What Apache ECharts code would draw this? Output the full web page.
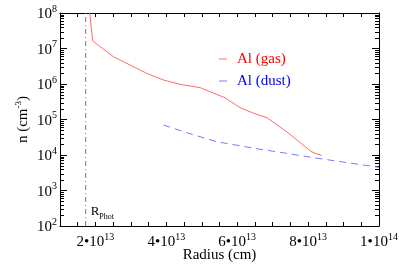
<!DOCTYPE html>
<html><head><meta charset="utf-8">
<script src="https://cdn.jsdelivr.net/npm/echarts@6/dist/echarts.min.js"></script>
<style>html,body{margin:0;padding:0;background:#fff}#c{width:399px;height:266px}</style>
</head><body><div id="c"></div>
<script>
// ---- data ----
const gasRadius = [1.83e13, 1.875e13, 1.923e13, 2.504e13, 2.975e13, 3.446e13, 3.915e13, 4.386e13, 4.95e13, 5.656e13, 6.079e13, 6.446e13, 6.841e13, 7.433e13, 8.082e13, 8.195e13, 8.384e13];
const gasDensity = [1.15e8, 4.6e7, 1.63e7, 5.9e6, 3.43e6, 2.0e6, 1.30e6, 9.8e5, 7.9e5, 4.1e5, 2.15e5, 1.52e5, 1.12e5, 4.25e4, 1.26e4, 1.12e4, 9.7e3];
const dustRadius = [3.915e13, 4.575e13, 5.421e13, 6.643e13, 6.925e13, 8.336e13, 1e14];
const dustDensity = [7.0e4, 4.25e4, 2.37e4, 1.45e4, 1.32e4, 7.9e3, 4.5e3];
const rPhot = 1.725e13;
const xMin = 1e13, xMax = 1e14, xTickStep = 5e12, xLabelStep = 2e13;
const yMin = 1e2, yMax = 1e8;
const seriesNames = ['Al (gas)', 'Al (dust)'];
const seriesColors = ['#ff6a6a', '#7a7aff'];
const legendTextColors = ['#ff0000', '#0000ff'];

const FONT = 'Liberation Serif';
const minorVals = [];
for (let k = Math.log10(yMin); k < Math.log10(yMax); k++) {
  for (let m = 2; m <= 9; m++) minorVals.push(m * Math.pow(10, k));
}
function sup(base, exp) { return '{b|' + base + '}{s|' + exp + '}'; }
const richLab = {
  b: {fontFamily: FONT, fontSize: 15, color: '#000', lineHeight: 18, verticalAlign: 'bottom'},
  s: {fontFamily: FONT, fontSize: 10, color: '#000', lineHeight: 18, verticalAlign: 'top'}
};
function xLabel(v) {
  const r = v / xLabelStep;
  if (Math.abs(r - Math.round(r)) > 1e-6) return '';
  const e = Math.floor(Math.log10(v) + 1e-9);
  const m = Math.round(v / Math.pow(10, e));
  return sup(m + '\u202210', e);
}
function yLabel(v) {
  const e = Math.round(Math.log10(v));
  return sup('10', e);
}

const chart = echarts.init(document.getElementById('c'), null, {renderer: 'canvas'});
const axisLine = {show: true, lineStyle: {color: '#000', width: 1}};
chart.setOption({
  animation: false,
  backgroundColor: '#fff',
  grid: {left: 60, right: 20, top: 13, bottom: 40, containLabel: false, outerBoundsMode: 'none'},
  legend: {
    orient: 'vertical', left: 214, top: 46, itemGap: 6,
    itemWidth: 8, itemHeight: 1, icon: 'rect',
    textStyle: {fontFamily: FONT, fontSize: 15, lineHeight: 16, padding: [0, 0, 0, 5]},
    data: seriesNames.map((n, i) => ({name: n, textStyle: {color: legendTextColors[i]}}))
  },
  xAxis: [{
    type: 'value', min: xMin, max: xMax, interval: xTickStep,
    name: 'Radius (cm)', nameLocation: 'middle', nameGap: 22, nameMoveOverlap: false,
    nameTextStyle: {fontFamily: FONT, fontSize: 15, color: '#000'},
    axisLine: axisLine, splitLine: {show: false},
    axisTick: {show: true, inside: true, length: 4, lineStyle: {color: '#000'}},
    axisLabel: {formatter: xLabel, margin: 6, rich: richLab, showMinLabel: true, showMaxLabel: true, hideOverlap: false}
  }, {
    type: 'value', position: 'top', min: xMin, max: xMax, interval: xTickStep,
    axisLine: axisLine, splitLine: {show: false},
    axisTick: {show: true, inside: true, length: 4, lineStyle: {color: '#000'}},
    axisLabel: {show: false}
  }],
  yAxis: [{
    type: 'log', logBase: 10, min: yMin, max: yMax,
    name: 'n (cm{s|-3})', nameLocation: 'middle', nameGap: 28, nameMoveOverlap: false,
    nameTextStyle: {fontFamily: FONT, fontSize: 15, color: '#000',
      rich: {s: {fontFamily: FONT, fontSize: 9, color: '#000', verticalAlign: 'top', lineHeight: 18}}},
    axisLine: axisLine, splitLine: {show: false},
    axisTick: {show: true, inside: true, length: 7, lineStyle: {color: '#000'}},
    axisLabel: {formatter: yLabel, margin: 3, rich: richLab}
  }, {
    type: 'log', logBase: 10, min: yMin, max: yMax, position: 'right',
    axisLine: axisLine, splitLine: {show: false},
    axisTick: {show: true, inside: true, length: 7, lineStyle: {color: '#000'}},
    axisLabel: {show: false}
  }],
  series: [{
    name: seriesNames[0], type: 'line', showSymbol: false, symbol: 'none', clip: true,
    data: gasRadius.map((r, i) => [r, gasDensity[i]]),
    lineStyle: {color: seriesColors[0], width: 1}, itemStyle: {color: seriesColors[0]}
  }, {
    name: seriesNames[1], type: 'line', showSymbol: false, symbol: 'none', clip: true,
    data: dustRadius.map((r, i) => [r, dustDensity[i]]),
    lineStyle: {color: seriesColors[1], width: 1, type: [7, 5]}, itemStyle: {color: seriesColors[1]}
  }, {
    name: 'rphot', type: 'line', showSymbol: false, symbol: 'none', silent: true,
    data: [[rPhot, yMin], [rPhot, yMax]],
    lineStyle: {color: '#777', width: 1, type: [5, 3, 1, 3]}
  }, {
    name: 'minor', type: 'custom', silent: true, clip: false,
    data: minorVals.map(v => [xMin, v]),
    renderItem: function (params, api) {
      const v = api.value(1);
      const pl = api.coord([xMin, v]);
      const pr = api.coord([xMax, v]);
      const st = {stroke: '#000', lineWidth: 1};
      return {type: 'group', children: [
        {type: 'line', shape: {x1: pl[0], y1: Math.round(pl[1]) + 0.5, x2: pl[0] + 4, y2: Math.round(pl[1]) + 0.5}, style: st},
        {type: 'line', shape: {x1: pr[0], y1: Math.round(pr[1]) + 0.5, x2: pr[0] - 4, y2: Math.round(pr[1]) + 0.5}, style: st}
      ]};
    }
  }]
});
// R_Phot label placed next to the bottom of the photosphere line
const pBottom = chart.convertToPixel({xAxisIndex: 0, yAxisIndex: 0}, [rPhot, yMin]);
chart.setOption({
  graphic: [{
    type: 'text', x: pBottom[0] + 5, y: pBottom[1] - 21, silent: true,
    style: {
      text: '{r|R}{p|Phot}',
      rich: {r: {fontFamily: FONT, fontSize: 13, fill: '#000', lineHeight: 16, verticalAlign: 'top'},
             p: {fontFamily: FONT, fontSize: 8, fill: '#000', lineHeight: 16, verticalAlign: 'bottom'}}
    }
  }]
});
</script></body></html>
